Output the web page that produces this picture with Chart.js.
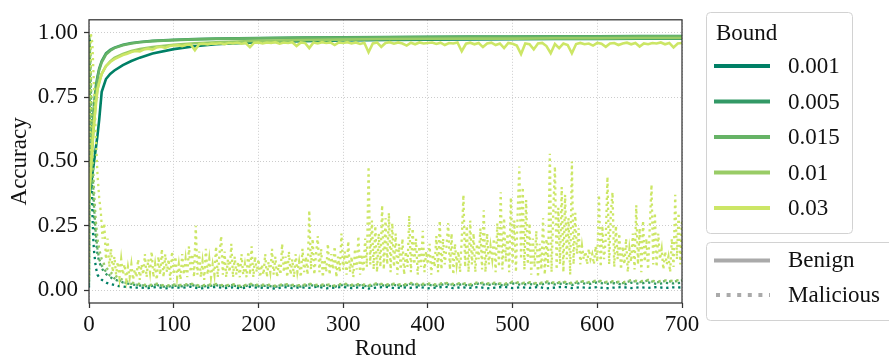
<!DOCTYPE html>
<html>
<head>
<meta charset="utf-8">
<script src="https://cdn.jsdelivr.net/npm/chart.js@4.4.0/dist/chart.umd.min.js"></script>
<style>
  html, body { margin: 0; padding: 0; background: #ffffff; overflow: hidden; }
  canvas { display: block; }
</style>
</head>
<body>
<canvas id="chart" width="889" height="358"></canvas>
<script>
// ---- Bounds and axis ticks ----
const boundLabels = ['0.001', '0.005', '0.015', '0.01', '0.03'];
const boundColors = ['#008066', '#339966', '#66b366', '#99cc66', '#cce666'];
const xTicks = [0, 100, 200, 300, 400, 500, 600, 700];
const yTicks = [0, 0.25, 0.5, 0.75, 1.0];

// ---- Benign accuracy (smooth runs, sampled rounds) ----
const benignRounds = [0, 2, 4, 6, 8, 10, 12, 15, 20, 25, 30, 40, 50, 60, 75, 100, 125, 150, 200, 250, 300, 350, 400, 450, 500, 550, 600, 650, 700];
const benign001 = [0.35, 0.40, 0.45, 0.50, 0.55, 0.60, 0.66, 0.77, 0.82, 0.84, 0.853, 0.874, 0.89, 0.903, 0.919, 0.936, 0.947, 0.955, 0.963, 0.967, 0.97, 0.972, 0.973, 0.974, 0.975, 0.976, 0.976, 0.977, 0.977];
const benign005 = [0.35, 0.50, 0.62, 0.72, 0.79, 0.83, 0.86, 0.89, 0.92, 0.933, 0.942, 0.953, 0.96, 0.964, 0.968, 0.972, 0.975, 0.977, 0.979, 0.981, 0.982, 0.983, 0.984, 0.985, 0.985, 0.986, 0.986, 0.987, 0.987];
const benign015 = [0.35, 0.48, 0.60, 0.70, 0.77, 0.82, 0.855, 0.885, 0.915, 0.93, 0.94, 0.951, 0.958, 0.963, 0.967, 0.971, 0.974, 0.976, 0.978, 0.98, 0.981, 0.982, 0.983, 0.984, 0.984, 0.985, 0.985, 0.986, 0.986];
const benign01 = [0.35, 0.45, 0.56, 0.65, 0.73, 0.78, 0.81, 0.84, 0.87, 0.888, 0.902, 0.917, 0.929, 0.936, 0.944, 0.953, 0.959, 0.963, 0.968, 0.971, 0.973, 0.975, 0.976, 0.977, 0.977, 0.978, 0.978, 0.979, 0.979];

// Benign accuracy for bound 0.03, every 5 rounds
const benign03Rounds = Array.from({ length: 141 }, (_, i) => i * 5);
const benign03 = [
  0.35, 0.62, 0.78, 0.84, 0.87, 0.886, 0.897, 0.905, 0.913, 0.918, 0.925, 0.929, 0.927, 0.935, 0.938, 0.934, 0.943, 0.945, 0.941, 0.948,
  0.95, 0.951, 0.948, 0.953, 0.954, 0.932, 0.955, 0.957, 0.954, 0.958, 0.957, 0.959, 0.955, 0.96, 0.958, 0.961, 0.957, 0.96, 0.944, 0.961,
  0.962, 0.958, 0.962, 0.96, 0.963, 0.957, 0.962, 0.96, 0.963, 0.948, 0.962, 0.96, 0.94, 0.962, 0.958, 0.963, 0.96, 0.962, 0.952, 0.962,
  0.96, 0.963, 0.958, 0.962, 0.956, 0.961, 0.924, 0.958, 0.962, 0.945, 0.96, 0.963, 0.957, 0.962, 0.958, 0.95, 0.961, 0.955, 0.962, 0.958,
  0.96, 0.962, 0.956, 0.961, 0.952, 0.96, 0.958, 0.962, 0.928, 0.957, 0.961, 0.955, 0.96, 0.944, 0.958, 0.961, 0.952, 0.958, 0.94, 0.96,
  0.957, 0.95, 0.917, 0.958, 0.955, 0.935, 0.958, 0.96, 0.948, 0.92, 0.956, 0.94, 0.958, 0.952, 0.92, 0.956, 0.96, 0.955, 0.958, 0.95,
  0.96, 0.957, 0.945, 0.958, 0.96, 0.952, 0.958, 0.961, 0.955, 0.96, 0.946, 0.958, 0.955, 0.96, 0.958, 0.962, 0.955, 0.96, 0.943, 0.958,
  0.96
];

// ---- Malicious (backdoor) accuracy ----
const malRounds = [0, 1, 2, 3, 4, 5, 6, 8, 10, 12, 15, 18, 21, 25, 30, 35, 40, 45, 50, 55]
  .concat(Array.from({ length: 65 }, (_, i) => 60 + i * 10));
const mal001 = [
  0.01, 0.99, 0.7, 0.45, 0.3, 0.2, 0.15, 0.09, 0.06, 0.05, 0.04, 0.035, 0.028, 0.024, 0.02, 0.016, 0.014, 0.012, 0.011, 0.01,
  0.01, 0.008, 0.012, 0.007, 0.011, 0.009, 0.013, 0.006, 0.01, 0.012,
  0.008, 0.011, 0.007, 0.013, 0.009, 0.01, 0.006, 0.012, 0.008, 0.011,
  0.009, 0.013, 0.007, 0.01, 0.012, 0.008, 0.011, 0.006, 0.01, 0.013,
  0.008, 0.011, 0.009, 0.012, 0.007, 0.01, 0.013, 0.008, 0.011, 0.009,
  0.012, 0.007, 0.01, 0.013, 0.008, 0.011, 0.009, 0.012, 0.007, 0.01,
  0.013, 0.008, 0.011, 0.009, 0.012, 0.007, 0.01, 0.012, 0.008, 0.011,
  0.009, 0.012, 0.008, 0.011, 0.01
];
const mal005 = [
  0.02, 0.97, 0.8, 0.6, 0.45, 0.35, 0.28, 0.2, 0.14, 0.11, 0.085, 0.07, 0.06, 0.05, 0.042, 0.035, 0.03, 0.026, 0.022, 0.02,
  0.018, 0.014, 0.02, 0.012, 0.017, 0.015, 0.021, 0.013, 0.016, 0.019,
  0.014, 0.018, 0.012, 0.02, 0.015, 0.017, 0.013, 0.019, 0.016, 0.014,
  0.02, 0.015, 0.018, 0.013, 0.021, 0.016, 0.019, 0.014, 0.022, 0.017,
  0.02, 0.015, 0.023, 0.018, 0.021, 0.016, 0.024, 0.019, 0.022, 0.017,
  0.025, 0.02, 0.023, 0.018, 0.026, 0.021, 0.024, 0.019, 0.027, 0.022,
  0.026, 0.02, 0.028, 0.023, 0.03, 0.024, 0.027, 0.021, 0.029, 0.025,
  0.03, 0.024, 0.028, 0.026, 0.029
];
const mal015 = [
  0.03, 0.96, 0.82, 0.65, 0.5, 0.4, 0.32, 0.22, 0.16, 0.12, 0.095, 0.08, 0.068, 0.056, 0.046, 0.038, 0.032, 0.027, 0.024, 0.021,
  0.02, 0.016, 0.022, 0.014, 0.019, 0.017, 0.023, 0.015, 0.018, 0.021,
  0.016, 0.02, 0.014, 0.022, 0.017, 0.019, 0.015, 0.021, 0.018, 0.016,
  0.022, 0.017, 0.02, 0.015, 0.023, 0.018, 0.021, 0.016, 0.024, 0.019,
  0.022, 0.018, 0.025, 0.02, 0.023, 0.019, 0.026, 0.021, 0.025, 0.02,
  0.028, 0.023, 0.026, 0.021, 0.03, 0.025, 0.028, 0.023, 0.031, 0.026,
  0.03, 0.025, 0.033, 0.028, 0.035, 0.029, 0.032, 0.027, 0.036, 0.031,
  0.037, 0.03, 0.035, 0.033, 0.038
];
const mal01 = [
  0.04, 0.98, 0.88, 0.72, 0.58, 0.47, 0.38, 0.27, 0.2, 0.16, 0.12, 0.1, 0.085, 0.07, 0.058, 0.048, 0.04, 0.034, 0.03, 0.026,
  0.024, 0.019, 0.025, 0.017, 0.022, 0.02, 0.026, 0.018, 0.021, 0.024,
  0.018, 0.023, 0.016, 0.025, 0.02, 0.022, 0.017, 0.024, 0.021, 0.019,
  0.025, 0.02, 0.023, 0.018, 0.026, 0.021, 0.024, 0.019, 0.027, 0.022,
  0.025, 0.021, 0.028, 0.023, 0.026, 0.022, 0.029, 0.024, 0.028, 0.023,
  0.031, 0.026, 0.029, 0.024, 0.033, 0.028, 0.031, 0.026, 0.034, 0.029,
  0.033, 0.028, 0.036, 0.031, 0.038, 0.032, 0.035, 0.03, 0.039, 0.034,
  0.04, 0.033, 0.038, 0.036, 0.041
];

// Malicious accuracy for bound 0.03, every 2 rounds
const mal03Rounds = Array.from({ length: 351 }, (_, i) => i * 2);
const mal03 = [
  0.05, 1.0, 0.96, 0.78, 0.6, 0.45, 0.36, 0.3, 0.2, 0.26, 0.12, 0.2, 0.09, 0.16, 0.07, 0.13, 0.06, 0.11, 0.05, 0.12, 0.06, 0.1, 0.04, 0.09, 0.05,
  0.1, 0.04, 0.08, 0.05, 0.12, 0.04, 0.1, 0.06, 0.14, 0.05, 0.12, 0.07, 0.15, 0.05, 0.1, 0.04, 0.13, 0.06, 0.16, 0.05, 0.14, 0.07, 0.12, 0.04, 0.15,
  0.06, 0.13, 0.05, 0.1, 0.04, 0.14, 0.06, 0.12, 0.05, 0.17, 0.07, 0.14, 0.05, 0.25, 0.06, 0.15, 0.05, 0.11, 0.04, 0.16, 0.06, 0.12, 0.05, 0.1, 0.06,
  0.17, 0.05, 0.14, 0.21, 0.06, 0.15, 0.05, 0.12, 0.07, 0.18, 0.05, 0.13, 0.06, 0.11, 0.05, 0.14, 0.06, 0.1, 0.05, 0.15, 0.06, 0.17, 0.05, 0.13, 0.07,
  0.12, 0.05, 0.1, 0.06, 0.14, 0.05, 0.11, 0.07, 0.16, 0.06, 0.13, 0.05, 0.1, 0.06, 0.18, 0.07, 0.13, 0.05, 0.15, 0.06, 0.12, 0.05, 0.14, 0.07, 0.11,
  0.05, 0.16, 0.07, 0.13, 0.06, 0.31, 0.08, 0.2, 0.06, 0.14, 0.21, 0.07, 0.16, 0.05, 0.12, 0.07, 0.18, 0.06, 0.14, 0.08, 0.17, 0.05, 0.13, 0.07, 0.22,
  0.08, 0.15, 0.06, 0.19, 0.07, 0.13, 0.05, 0.16, 0.08, 0.21, 0.06, 0.14, 0.07, 0.2, 0.09, 0.48, 0.1, 0.27, 0.08, 0.25, 0.07, 0.22, 0.09, 0.33, 0.08,
  0.28, 0.1, 0.3, 0.07, 0.26, 0.09, 0.22, 0.06, 0.18, 0.08, 0.2, 0.06, 0.15, 0.09, 0.29, 0.07, 0.24, 0.1, 0.2, 0.06, 0.17, 0.09, 0.23, 0.07, 0.15,
  0.1, 0.18, 0.06, 0.14, 0.09, 0.21, 0.07, 0.27, 0.08, 0.2, 0.1, 0.17, 0.26, 0.08, 0.22, 0.06, 0.18, 0.1, 0.15, 0.07, 0.2, 0.37, 0.09, 0.25, 0.07,
  0.27, 0.1, 0.22, 0.07, 0.18, 0.12, 0.24, 0.08, 0.31, 0.07, 0.22, 0.1, 0.17, 0.12, 0.2, 0.07, 0.26, 0.09, 0.38, 0.08, 0.28, 0.11, 0.22, 0.07, 0.36,
  0.1, 0.27, 0.07, 0.3, 0.48, 0.12, 0.4, 0.08, 0.35, 0.1, 0.26, 0.06, 0.2, 0.09, 0.23, 0.05, 0.18, 0.08, 0.28, 0.06, 0.2, 0.09, 0.53, 0.07, 0.3,
  0.48, 0.08, 0.32, 0.1, 0.4, 0.07, 0.37, 0.12, 0.28, 0.06, 0.5, 0.1, 0.3, 0.14, 0.24, 0.1, 0.17, 0.12, 0.15, 0.1, 0.16, 0.12, 0.14, 0.1, 0.17,
  0.11, 0.37, 0.09, 0.25, 0.12, 0.2, 0.44, 0.1, 0.3, 0.38, 0.09, 0.25, 0.12, 0.22, 0.08, 0.17, 0.1, 0.2, 0.07, 0.16, 0.11, 0.22, 0.08, 0.33, 0.1,
  0.24, 0.07, 0.27, 0.11, 0.2, 0.08, 0.25, 0.41, 0.1, 0.3, 0.09, 0.22, 0.12, 0.16, 0.08, 0.15, 0.1, 0.13, 0.07, 0.2, 0.09, 0.37, 0.12, 0.3, 0.1,
  0.27
];

// ---- Build datasets ----
const benignSeries = [benign001, benign005, benign015, benign01, benign03];
const benignX = [benignRounds, benignRounds, benignRounds, benignRounds, benign03Rounds];
const maliciousSeries = [mal001, mal005, mal015, mal01, mal03];
const maliciousX = [malRounds, malRounds, malRounds, malRounds, mal03Rounds];

function toPoints(xs, ys) { return ys.map((y, i) => ({ x: xs[i], y: y })); }

const datasets = [];
boundLabels.forEach((b, k) => {
  datasets.push({
    label: b + ' benign', data: toPoints(benignX[k], benignSeries[k]),
    borderColor: boundColors[k], borderWidth: 2.6, pointRadius: 0, tension: 0, fill: false
  });
  datasets.push({
    label: b + ' malicious', data: toPoints(maliciousX[k], maliciousSeries[k]),
    borderColor: boundColors[k], borderWidth: 2.3, borderDash: [2.3, 3.7], borderCapStyle: 'butt',
    pointRadius: 0, tension: 0, fill: false
  });
});
// later series are painted over earlier ones
datasets.forEach((d, i) => { d.order = datasets.length - i; });

const FONT = '"Liberation Serif", "Times New Roman", serif';
const TEXT = '#111111';

function roundRect(c, x, y, w, h, r) {
  c.beginPath();
  c.moveTo(x + r, y);
  c.arcTo(x + w, y, x + w, y + h, r);
  c.arcTo(x + w, y + h, x, y + h, r);
  c.arcTo(x, y + h, x, y, r);
  c.arcTo(x, y, x + w, y, r);
  c.closePath();
}

// Frame, axis titles and the two legend boxes
const decorations = {
  id: 'decorations',
  afterDraw(chart) {
    const c = chart.ctx, a = chart.chartArea;
    c.save();
    c.strokeStyle = '#333333';
    c.lineWidth = 1.25;
    c.strokeRect(a.left, a.top, a.right - a.left, a.bottom - a.top);

    c.fillStyle = TEXT;
    c.font = '23px ' + FONT;
    c.textAlign = 'center';
    c.textBaseline = 'alphabetic';
    c.fillText('Round', (a.left + a.right) / 2, 355);
    c.save();
    c.translate(26, (a.top + a.bottom) / 2);
    c.rotate(-Math.PI / 2);
    c.fillText('Accuracy', 0, 0);
    c.restore();

    // Bound legend
    c.lineWidth = 1;
    c.strokeStyle = '#d2d2d2';
    c.fillStyle = 'rgba(255,255,255,0.85)';
    roundRect(c, 706.5, 12.5, 146, 221, 4);
    c.fill(); c.stroke();
    c.fillStyle = TEXT;
    c.textAlign = 'left';
    c.fillText('Bound', 716, 40);
    const rows = [66, 101.5, 137, 172.5, 208];
    c.textBaseline = 'middle';
    boundLabels.forEach((b, k) => {
      c.strokeStyle = boundColors[k];
      c.lineWidth = 4;
      c.beginPath(); c.moveTo(714, rows[k]); c.lineTo(770, rows[k]); c.stroke();
      c.fillStyle = TEXT;
      c.fillText(b, 788, rows[k] + 1);
    });

    // Benign / Malicious legend
    c.lineWidth = 1;
    c.strokeStyle = '#d2d2d2';
    c.fillStyle = 'rgba(255,255,255,0.85)';
    roundRect(c, 706.5, 242.5, 200, 78, 4);
    c.fill(); c.stroke();
    c.strokeStyle = '#aaaaaa';
    c.lineWidth = 4;
    c.beginPath(); c.moveTo(714, 260.5); c.lineTo(770, 260.5); c.stroke();
    c.setLineDash([4, 6.6]);
    c.beginPath(); c.moveTo(716, 295); c.lineTo(770, 295); c.stroke();
    c.setLineDash([]);
    c.fillStyle = TEXT;
    c.fillText('Benign', 788, 261);
    c.fillText('Malicious', 788, 296);
    c.restore();
  }
};

const tickFont = { family: FONT, size: 23 };

new Chart(document.getElementById('chart'), {
  type: 'line',
  data: { datasets: datasets },
  plugins: [decorations],
  options: {
    responsive: false,
    animation: false,
    devicePixelRatio: 1,
    events: [],
    layout: { padding: { left: 0, top: 12.5, right: 207, bottom: 0 } },
    plugins: { legend: { display: false }, tooltip: { enabled: false } },
    scales: {
      x: {
        type: 'linear', min: 0, max: 700,
        afterBuildTicks: s => { s.ticks = xTicks.map(v => ({ value: v })); },
        afterFit: s => { s.height = 55; },
        ticks: { font: tickFont, color: TEXT, padding: 3, maxRotation: 0, autoSkip: false, callback: v => String(v) },
        grid: { color: '#cccccc', lineWidth: 1, tickLength: 5, tickColor: '#333333', tickWidth: 1.25, tickBorderDash: [] },
        border: { display: false, dash: [1, 2] }
      },
      y: {
        type: 'linear', min: -0.05, max: 1.05,
        afterBuildTicks: s => { s.ticks = yTicks.map(v => ({ value: v })); },
        afterFit: s => { s.width = 89; },
        ticks: { font: tickFont, color: TEXT, padding: 6, callback: v => Number(v).toFixed(2) },
        grid: { color: '#cccccc', lineWidth: 1, tickLength: 5, tickColor: '#333333', tickWidth: 1.25, tickBorderDash: [] },
        border: { display: false, dash: [1, 2] }
      }
    }
  }
});
</script>
</body>
</html>
